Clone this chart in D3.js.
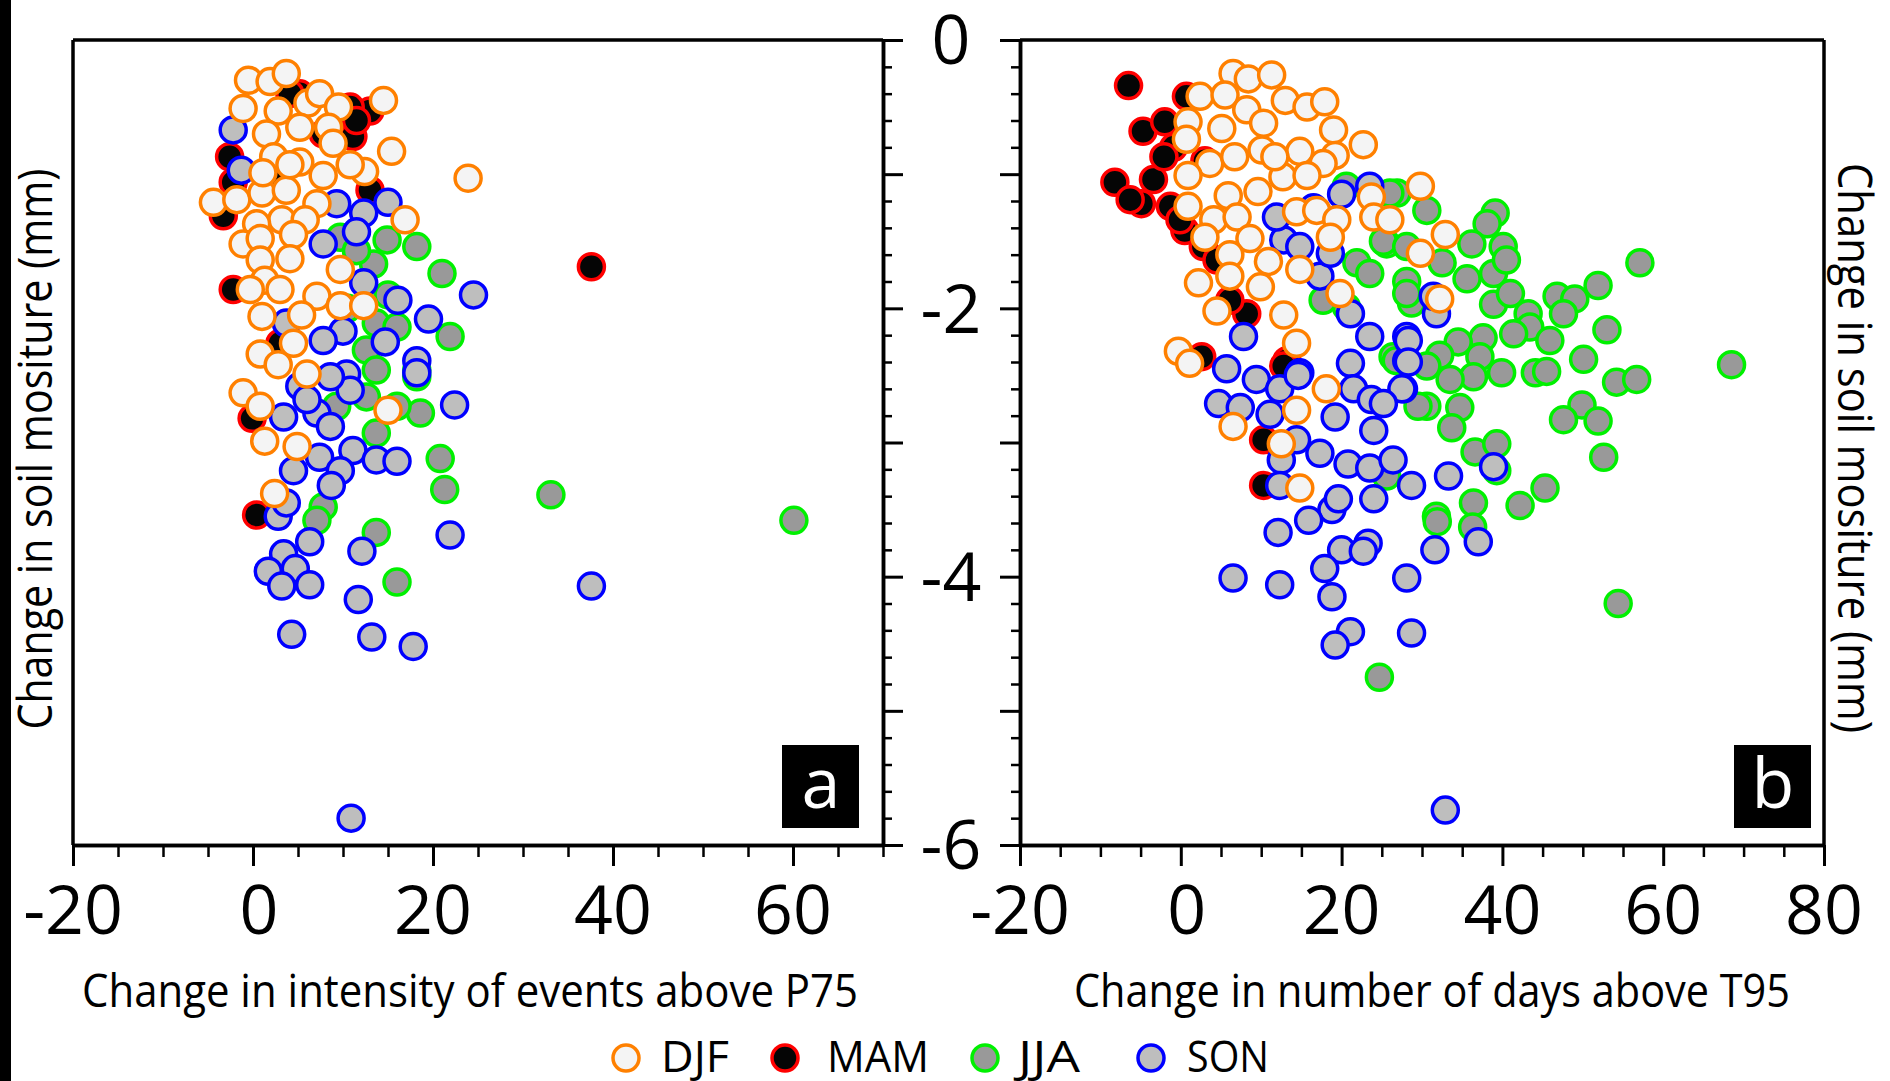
<!DOCTYPE html>
<html>
<head>
<meta charset="utf-8">
<script src="https://cdn.jsdelivr.net/npm/d3@7"></script>
<style>
  body { margin: 0; background: #fff; }
  text { font-family: "Open Sans", "Noto Sans", sans-serif; }
</style>
</head>
<body>
<div id="chart"></div>
<script>
// seasons and their marker colours
const seasons = ["DJF", "MAM", "JJA", "SON"];
const strokeColors = { DJF: "#ff8000", MAM: "#ff0000", JJA: "#00f000", SON: "#0000ff" };
const fillColors = { DJF: "#f4f4f4", MAM: "#050505", JJA: "#999999", SON: "#bebebe" };

// panel a: change in intensity of events above P75 vs change in soil moisture
const djfIntensity = [[-0.5,-0.30],[1.9,-0.31],[3.7,-0.25],[-1.1,-0.51],[2.8,-0.53],[6.1,-0.47],[7.4,-0.40],[9.5,-0.50],[8.4,-0.65],[14.5,-0.45],[1.5,-0.70],[5.2,-0.65],[8.9,-0.77],[15.4,-0.83],[12.4,-0.98],[23.9,-1.03],[-4.4,-1.21],[-1.8,-1.19],[1.0,-1.14],[3.7,-1.12],[7.1,-1.22],[2.3,-0.87],[5.2,-0.91],[7.8,-1.01],[3.2,-1.34],[0.4,-1.37],[5.8,-1.34],[-1.1,-1.52],[0.8,-1.48],[4.5,-1.45],[0.8,-1.64],[4.1,-1.63],[16.9,-1.34],[9.7,-1.71],[1.3,-1.79],[-0.3,-1.86],[3.0,-1.86],[7.1,-1.91],[9.7,-1.98],[12.3,-1.98],[1.0,-2.06],[5.4,-2.05],[0.8,-2.34],[2.8,-2.42],[4.5,-2.26],[6.0,-2.49],[1.1,-0.99],[4.1,-0.93],[10.8,-0.93],[-1.1,-2.63],[0.8,-2.73],[1.3,-2.99],[4.9,-3.03],[2.4,-3.38],[15.0,-2.76]];
const mamIntensity = [[13.0,-0.53],[11.1,-0.72],[-2.6,-0.87],[-2.2,-1.06],[-3.3,-1.31],[13.0,-1.12],[10.8,-0.50],[5.2,-0.40],[-2.2,-1.86],[-0.1,-2.82],[0.4,-3.54],[37.6,-1.69],[3.0,-2.26],[4.1,-0.40],[7.8,-0.70],[2.3,-1.07],[11.5,-0.60]];
const jjaIntensity = [[18.2,-1.54],[21.0,-1.74],[21.9,-2.21],[14.9,-1.49],[13.4,-1.67],[13.7,-2.11],[16.0,-2.14],[9.7,-1.47],[11.5,-1.57],[12.6,-2.31],[18.2,-2.46],[12.6,-2.66],[18.6,-2.78],[13.7,-2.93],[20.8,-3.12],[21.3,-3.35],[7.8,-3.48],[7.1,-3.58],[13.7,-3.67],[16.0,-4.04],[18.2,-2.51],[16.0,-2.73],[13.7,-2.46],[9.3,-2.73],[33.1,-3.39],[60.1,-3.58],[10.5,-2.00],[15.0,-1.90]];
const sonIntensity = [[9.3,-1.22],[12.3,-1.29],[15.0,-1.21],[11.5,-1.43],[7.8,-1.52],[24.5,-1.90],[16.1,-1.94],[19.5,-2.08],[14.7,-2.25],[18.2,-2.39],[10.0,-2.17],[7.8,-2.24],[12.3,-1.81],[-1.3,-0.97],[-2.2,-0.67],[3.7,-2.11],[10.4,-2.49],[18.2,-2.48],[22.4,-2.72],[10.8,-2.61],[7.1,-2.78],[3.4,-2.81],[8.6,-2.88],[11.1,-3.06],[13.7,-3.13],[16.0,-3.14],[7.4,-3.11],[4.5,-3.21],[9.7,-3.21],[8.7,-3.32],[2.8,-3.55],[3.7,-3.45],[6.3,-3.74],[3.4,-3.83],[1.7,-3.96],[4.7,-3.94],[6.3,-4.06],[3.2,-4.07],[12.1,-3.81],[21.9,-3.69],[11.7,-4.17],[4.3,-4.43],[13.2,-4.45],[17.8,-4.52],[5.2,-2.58],[8.6,-2.51],[6.0,-2.68],[37.6,-4.07],[10.9,-5.80]];

// panel b: change in number of days above T95 vs change in soil moisture
const djfDays = [[6.5,-0.25],[8.4,-0.29],[11.3,-0.26],[2.4,-0.42],[5.5,-0.41],[13.0,-0.45],[15.7,-0.50],[17.9,-0.46],[8.2,-0.52],[0.9,-0.61],[5.1,-0.66],[10.3,-0.62],[19.0,-0.67],[0.7,-0.74],[22.7,-0.78],[10.1,-0.82],[14.8,-0.83],[19.2,-0.86],[17.7,-0.92],[3.6,-0.92],[6.7,-0.87],[0.9,-1.01],[12.7,-1.02],[15.7,-1.01],[9.6,-1.13],[5.9,-1.16],[0.9,-1.24],[4.1,-1.34],[7.0,-1.32],[14.4,-1.28],[16.9,-1.27],[19.4,-1.34],[23.7,-1.17],[24.0,-1.32],[26.0,-1.34],[29.8,-1.09],[29.8,-1.59],[8.6,-1.48],[3.0,-1.47],[18.6,-1.47],[6.1,-1.60],[10.9,-1.65],[14.8,-1.71],[6.1,-1.76],[9.9,-1.84],[2.2,-1.81],[4.5,-2.02],[19.8,-1.89],[12.8,-2.05],[14.4,-2.26],[-0.3,-2.32],[1.1,-2.41],[18.1,-2.60],[11.7,-0.87],[14.4,-2.76],[6.5,-2.88],[12.5,-3.01],[14.8,-3.34],[32.9,-1.45],[32.2,-1.93]];
const mamDays = [[-6.5,-0.34],[-4.7,-0.68],[-2.0,-0.61],[-8.2,-1.06],[-3.4,-1.04],[-4.9,-1.22],[-6.3,-1.19],[-0.9,-0.80],[0.7,-0.42],[-1.3,-1.24],[0.5,-1.42],[2.8,-1.54],[4.5,-1.64],[8.2,-2.04],[6.1,-1.94],[2.6,-2.36],[13.2,-2.39],[-0.1,-1.34],[10.3,-3.32],[10.3,-2.98],[12.8,-2.43],[-2.1,-0.87],[3.0,-0.90]];
const jjaDays = [[26.9,-1.14],[30.6,-1.27],[39.1,-1.29],[38.1,-1.37],[36.2,-1.52],[40.1,-1.54],[25.6,-1.52],[32.5,-1.66],[35.6,-1.78],[38.9,-1.74],[40.5,-1.64],[57.1,-1.66],[51.9,-1.83],[28.1,-1.80],[28.7,-1.96],[38.9,-1.97],[41.0,-1.89],[43.2,-2.04],[46.8,-1.91],[49.0,-1.93],[47.6,-2.04],[43.4,-2.14],[41.4,-2.19],[37.6,-2.22],[34.5,-2.25],[45.9,-2.24],[53.0,-2.16],[32.2,-2.35],[37.2,-2.36],[39.9,-2.48],[44.1,-2.48],[45.5,-2.47],[50.1,-2.38],[36.4,-2.51],[33.5,-2.53],[68.5,-2.42],[54.2,-2.55],[56.7,-2.53],[30.6,-2.73],[34.7,-2.74],[49.9,-2.72],[47.6,-2.83],[51.9,-2.84],[33.7,-2.89],[36.6,-3.07],[39.3,-3.01],[52.6,-3.11],[39.3,-3.21],[45.3,-3.34],[36.4,-3.45],[42.2,-3.47],[31.8,-3.55],[26.4,-2.36],[30.6,-2.43],[20.6,-1.09],[26.0,-1.14],[25.2,-1.50],[28.1,-1.54],[21.9,-1.66],[23.5,-1.74],[28.1,-1.89],[20.6,-1.99],[17.7,-1.94],[26.8,-2.39],[31.9,-3.59],[36.3,-3.63],[54.4,-4.20],[24.7,-4.75],[29.5,-2.73],[25.6,-3.25]];
const sonDays = [[7.8,-2.21],[5.7,-2.45],[9.4,-2.53],[12.8,-1.49],[14.8,-1.54],[17.3,-1.76],[21.1,-2.04],[23.5,-2.21],[28.1,-2.21],[28.1,-2.39],[14.8,-2.48],[21.1,-2.41],[23.5,-1.09],[18.6,-1.59],[11.9,-1.32],[4.7,-2.71],[7.4,-2.74],[12.3,-2.60],[14.6,-2.50],[11.1,-2.79],[12.5,-3.13],[14.4,-2.98],[12.3,-3.32],[17.3,-3.08],[19.2,-2.81],[21.5,-2.60],[23.7,-2.68],[24.0,-2.91],[20.8,-3.16],[23.5,-3.19],[26.4,-3.13],[27.7,-2.60],[28.7,-3.32],[24.0,-3.42],[18.8,-3.50],[15.9,-3.58],[19.6,-3.42],[12.1,-3.67],[20.0,-3.80],[23.3,-3.75],[22.7,-3.81],[17.9,-3.94],[6.5,-4.01],[12.3,-4.06],[18.8,-4.15],[28.1,-4.01],[21.1,-4.41],[19.2,-4.51],[28.7,-4.42],[28.3,-2.24],[28.3,-2.40],[27.5,-2.60],[25.2,-2.71],[33.3,-3.25],[38.9,-3.18],[31.8,-2.04],[31.4,-1.91],[37.0,-3.74],[31.6,-3.80],[32.9,-5.74],[16.5,-1.25],[20.0,-1.15]];

// tick labels
const xTicksA = [-20, 0, 20, 40, 60];
const xTicksB = [-20, 0, 20, 40, 60, 80];
const yTickLabels = [0, -2, -4, -6];

const width = 1890, height = 1081;
const svg = d3.select("#chart")
    .append("svg")
    .attr("width", width)
    .attr("height", height);

// black strip on the left edge
svg.append("rect").attr("x", 0).attr("y", 0).attr("width", 11).attr("height", height).attr("fill", "#000");

// scales
const y = d3.scaleLinear().domain([-6, 0]).range([845, 40]);
const xA = d3.scaleLinear().domain([-20, 70]).range([73, 883]);
const xB = d3.scaleLinear().domain([-20, 80]).range([1020, 1824]);

const r = 13;

function drawPoints(x, sets) {
    // draw order: MAM, JJA, SON, DJF (DJF on top)
    ["MAM", "JJA", "SON", "DJF"].forEach(s => {
        svg.append("g")
            .selectAll("circle")
            .data(sets[s])
            .enter()
            .append("circle")
            .attr("cx", d => x(d[0]))
            .attr("cy", d => y(d[1]))
            .attr("r", r)
            .attr("fill", fillColors[s])
            .attr("stroke", strokeColors[s])
            .attr("stroke-width", 3.5);
    });
}

function styleAxis(g, w) {
    g.select(".domain").attr("stroke-width", 3.5).attr("stroke", "#000");
    g.selectAll(".tick line").attr("stroke-width", w).attr("stroke", "#000");
    g.selectAll(".tick text").remove();
}

function xAxis(x, majors, lo, hi) {
    const minors = d3.range(lo, hi + 0.1, 5).filter(v => v % 20 !== 0);
    const gMin = svg.append("g").attr("transform", "translate(0,845)")
        .call(d3.axisBottom(x).tickValues(minors).tickSize(12).tickSizeOuter(0));
    styleAxis(gMin, 2.5);
    const gMaj = svg.append("g").attr("transform", "translate(0,845)")
        .call(d3.axisBottom(x).tickValues(majors).tickSize(21).tickSizeOuter(0));
    styleAxis(gMaj, 3);
    svg.append("g").selectAll("text")
        .data(majors)
        .enter()
        .append("text")
        .attr("x", d => x(d) + (d === 0 ? 6 : 0))
        .attr("y", 934)
        .attr("text-anchor", "middle")
        .attr("font-size", 68)
        .text(d => d);
}

function yAxis(axisFn, xpos) {
    const minors = d3.range(-6, 0.01, 0.2).filter(v => Math.abs(v - Math.round(v)) > 0.01);
    const gMin = svg.append("g").attr("transform", `translate(${xpos},0)`)
        .call(axisFn(y).tickValues(minors).tickSize(9).tickSizeOuter(0));
    styleAxis(gMin, 2.5);
    const gMaj = svg.append("g").attr("transform", `translate(${xpos},0)`)
        .call(axisFn(y).tickValues(d3.range(-6, 0.5, 1)).tickSize(20).tickSizeOuter(0));
    styleAxis(gMaj, 3);
}

// points first, then frames on top
drawPoints(xA, { DJF: djfIntensity, MAM: mamIntensity, JJA: jjaIntensity, SON: sonIntensity });
drawPoints(xB, { DJF: djfDays, MAM: mamDays, JJA: jjaDays, SON: sonDays });

// panel a frame
svg.append("line").attr("x1", 73).attr("x2", 883).attr("y1", 40).attr("y2", 40)
    .attr("stroke", "#000").attr("stroke-width", 3.5);
svg.append("line").attr("x1", 73).attr("x2", 73).attr("y1", 40).attr("y2", 845)
    .attr("stroke", "#000").attr("stroke-width", 3.5);
xAxis(xA, xTicksA, -20, 70);
yAxis(d3.axisRight, 883);

// panel b frame
svg.append("line").attr("x1", 1020).attr("x2", 1824).attr("y1", 40).attr("y2", 40)
    .attr("stroke", "#000").attr("stroke-width", 3.5);
svg.append("line").attr("x1", 1824).attr("x2", 1824).attr("y1", 40).attr("y2", 845)
    .attr("stroke", "#000").attr("stroke-width", 3.5);
xAxis(xB, xTicksB, -20, 80);
yAxis(d3.axisLeft, 1020);

// shared y tick labels between the panels
svg.append("g").selectAll("text")
    .data(yTickLabels)
    .enter()
    .append("text")
    .attr("x", 951)
    .attr("y", d => y(d))
    .attr("dy", "0.36em")
    .attr("text-anchor", "middle")
    .attr("font-size", 68)
    .text(d => d);

// axis titles
svg.append("text")
    .attr("x", 470).attr("y", 1007)
    .attr("text-anchor", "middle")
    .attr("font-size", 46)
    .attr("textLength", 776).attr("lengthAdjust", "spacingAndGlyphs")
    .text("Change in intensity of events above P75");
svg.append("text")
    .attr("x", 1432).attr("y", 1007)
    .attr("text-anchor", "middle")
    .attr("font-size", 46)
    .attr("textLength", 716).attr("lengthAdjust", "spacingAndGlyphs")
    .text("Change in number of days above T95");
svg.append("text")
    .attr("transform", "translate(52,449) rotate(-90)")
    .attr("text-anchor", "middle")
    .attr("font-size", 48)
    .attr("textLength", 561).attr("lengthAdjust", "spacingAndGlyphs")
    .text("Change in soil mositure (mm)");
svg.append("text")
    .attr("transform", "translate(1838,448) rotate(90)")
    .attr("text-anchor", "middle")
    .attr("font-size", 48)
    .attr("textLength", 570).attr("lengthAdjust", "spacingAndGlyphs")
    .text("Change in soil mositure (mm)");

// panel letters
const panelLabels = [{ t: "a", x: 782 }, { t: "b", x: 1734 }];
panelLabels.forEach(p => {
    svg.append("rect").attr("x", p.x).attr("y", 745).attr("width", 77).attr("height", 83).attr("fill", "#000");
    svg.append("text")
        .attr("x", p.x + 39).attr("y", 808)
        .attr("text-anchor", "middle")
        .attr("font-size", 70)
        .attr("fill", "#fff")
        .text(p.t);
});

// legend
const legendPos = [
    { s: "DJF", cx: 626, tx: 661, w: 68 },
    { s: "MAM", cx: 785, tx: 827, w: 102 },
    { s: "JJA", cx: 985, tx: 1018, w: 62 },
    { s: "SON", cx: 1151, tx: 1187, w: 82 }
];
const legend = svg.append("g");
legend.selectAll("circle")
    .data(legendPos)
    .enter()
    .append("circle")
    .attr("cx", d => d.cx)
    .attr("cy", 1058)
    .attr("r", r)
    .attr("fill", d => fillColors[d.s])
    .attr("stroke", d => strokeColors[d.s])
    .attr("stroke-width", 3.5);
legend.selectAll("text")
    .data(legendPos)
    .enter()
    .append("text")
    .attr("x", d => d.tx)
    .attr("y", 1072)
    .attr("font-size", 43)
    .attr("textLength", d => d.w).attr("lengthAdjust", "spacingAndGlyphs")
    .text(d => d.s);
</script>
</body>
</html>
